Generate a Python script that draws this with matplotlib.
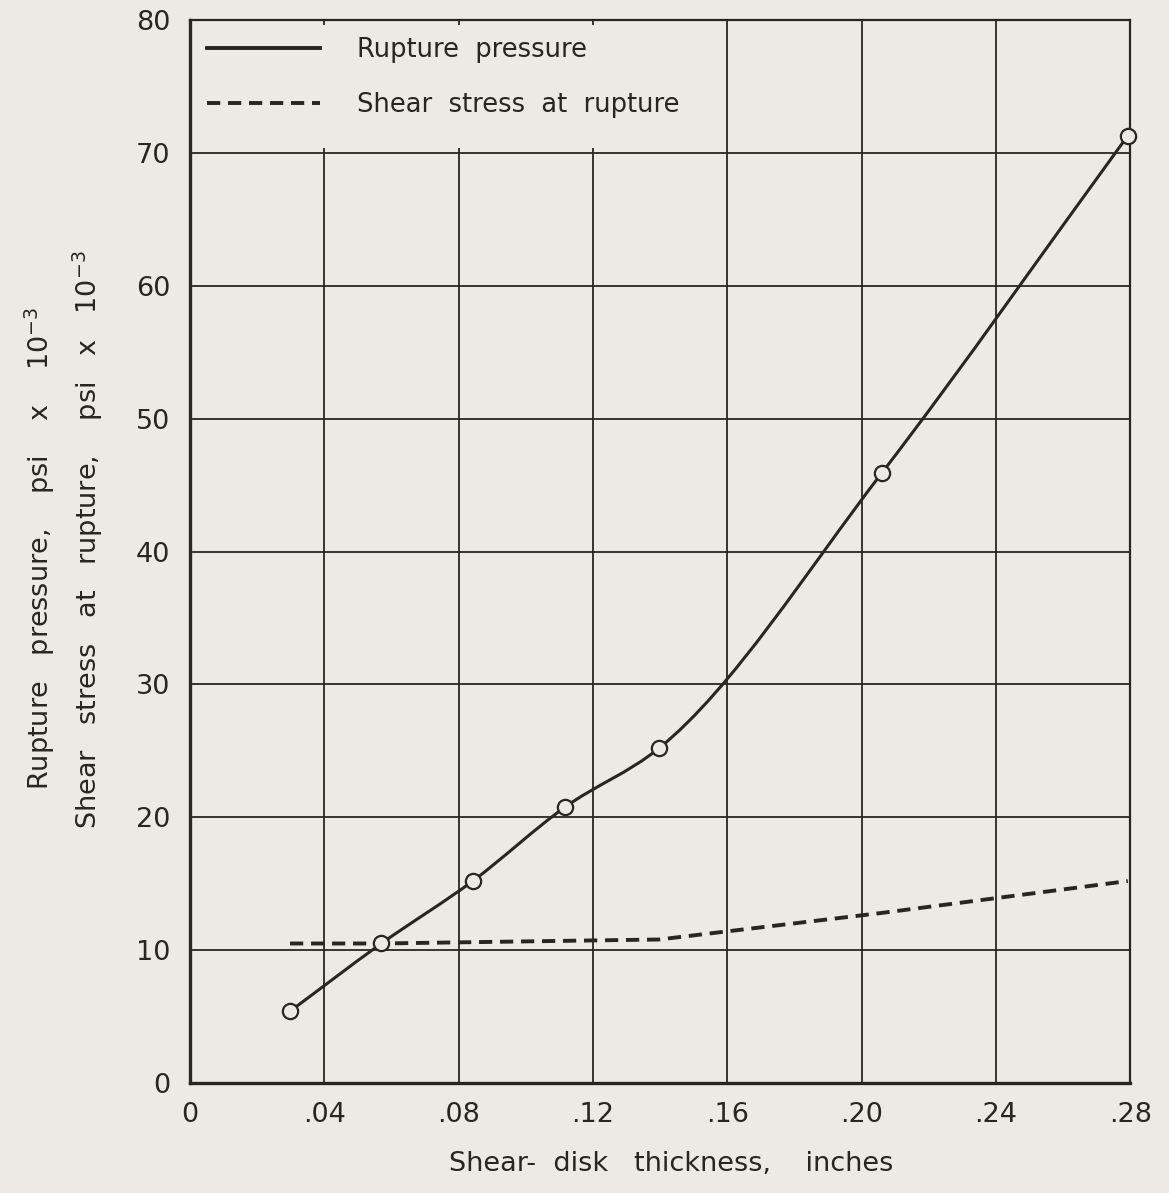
import matplotlib

matplotlib.use("Agg")
import matplotlib.pyplot as plt
from matplotlib.lines import Line2D
from matplotlib.patches import PathPatch, Rectangle
from matplotlib.path import Path
import numpy as np

# ── Data ──────────────────────────────────────────────────────────────────────
thickness = [0.0298, 0.0570, 0.0842, 0.1116, 0.1397, 0.2060, 0.2793]  # inches
rupture_pressure = [5.4, 10.5, 15.2, 20.75, 25.2, 45.9, 71.3]  # psi x 10^-3
shear_stress = [10.5, 10.5, 10.6, 10.7, 10.8, 12.8, 15.2]  # psi x 10^-3

x_ticks = [0, 0.04, 0.08, 0.12, 0.16, 0.20, 0.24, 0.28]
x_tick_labels = ["0", ".04", ".08", ".12", ".16", ".20", ".24", ".28"]
y_ticks = [0, 10, 20, 30, 40, 50, 60, 70, 80]

# ── Style ─────────────────────────────────────────────────────────────────────
PAPER = "#EDEAE5"
INK = "#2a2522"
plt.rcParams.update(
    {
        "font.family": "DejaVu Sans",
        "font.size": 18,
        "text.color": INK,
        "axes.labelcolor": INK,
        "xtick.color": INK,
        "ytick.color": INK,
        "mathtext.fontset": "dejavusans",
    }
)


def faired_path(xs, ys):
    """Smooth curve through the points (three-point slopes, cubic Beziers)."""
    xs = np.asarray(xs, float)
    ys = np.asarray(ys, float)
    h = np.diff(xs)
    d = np.diff(ys) / h
    n = len(xs)
    m = np.empty(n)
    m[0], m[-1] = d[0], d[-1]
    for i in range(1, n - 1):
        m[i] = (h[i] * d[i - 1] + h[i - 1] * d[i]) / (h[i - 1] + h[i])
    verts = [(xs[0], ys[0])]
    codes = [Path.MOVETO]
    for i in range(n - 1):
        dx = h[i] / 3
        verts += [
            (xs[i] + dx, ys[i] + m[i] * dx),
            (xs[i + 1] - dx, ys[i + 1] - m[i + 1] * dx),
            (xs[i + 1], ys[i + 1]),
        ]
        codes += [Path.CURVE4] * 3
    return Path(verts, codes)


fig = plt.figure(figsize=(11.69, 11.93), dpi=100, facecolor=PAPER)
ax = fig.add_axes([0.1625, 0.0922, 0.8043, 0.891])
ax.set_facecolor(PAPER)

ax.set_xlim(0, 0.28)
ax.set_ylim(0, 80)
ax.set_xticks(x_ticks)
ax.set_xticklabels(x_tick_labels)
ax.set_yticks(y_ticks)
ax.tick_params(length=0, pad=14, labelsize=19.5)
ax.grid(True, color=INK, linewidth=1.3)

for side, lw in [("left", 2.4), ("bottom", 2.4), ("top", 1.6), ("right", 1.6)]:
    ax.spines[side].set_linewidth(lw)
    ax.spines[side].set_color(INK)

# clear the grid behind the key
ax.add_patch(
    Rectangle(
        (0.0, 70.4), 0.157, 9.2, facecolor=PAPER, edgecolor="none", zorder=1.6
    )
)

# rupture pressure: faired curve with open circles at test points
ax.add_patch(
    PathPatch(
        faired_path(thickness, rupture_pressure),
        facecolor="none",
        edgecolor=INK,
        linewidth=2.2,
        zorder=3,
    )
)
ax.plot(
    thickness,
    rupture_pressure,
    linestyle="none",
    marker="o",
    markersize=11,
    markerfacecolor=PAPER,
    markeredgecolor=INK,
    markeredgewidth=1.6,
    zorder=4,
    clip_on=False,
)

# shear stress at rupture
ax.plot(
    thickness,
    shear_stress,
    color=INK,
    linewidth=2.8,
    dashes=(3.4, 2.0),
    zorder=3,
)

handles = [
    Line2D([], [], color=INK, linewidth=2.8),
    Line2D([], [], color=INK, linewidth=2.8, dashes=(3.4, 2.0)),
]
ax.legend(
    handles,
    ["Rupture  pressure", "Shear  stress  at  rupture"],
    loc="upper left",
    bbox_to_anchor=(0.0, 1.0),
    frameon=False,
    fontsize=18.5,
    handlelength=4.4,
    handletextpad=1.45,
    labelspacing=1.15,
    borderaxespad=0.25,
)

ax.set_xlabel("Shear-  disk   thickness,    inches", labelpad=16, fontsize=19.5)
ax.xaxis.label.set_x(0.512)

fig.text(
    40 / 1169,
    1 - 548 / 1193,
    r"Rupture   pressure,    psi    x    $\mathregular{10^{-3}}$",
    rotation=90,
    ha="center",
    va="center",
    fontsize=19.5,
)
fig.text(
    88 / 1169,
    1 - 540 / 1193,
    r"Shear   stress   at   rupture,    psi   x   $\mathregular{10^{-3}}$",
    rotation=90,
    ha="center",
    va="center",
    fontsize=19.5,
)

fig.savefig("out.png", dpi=100, facecolor=PAPER)
